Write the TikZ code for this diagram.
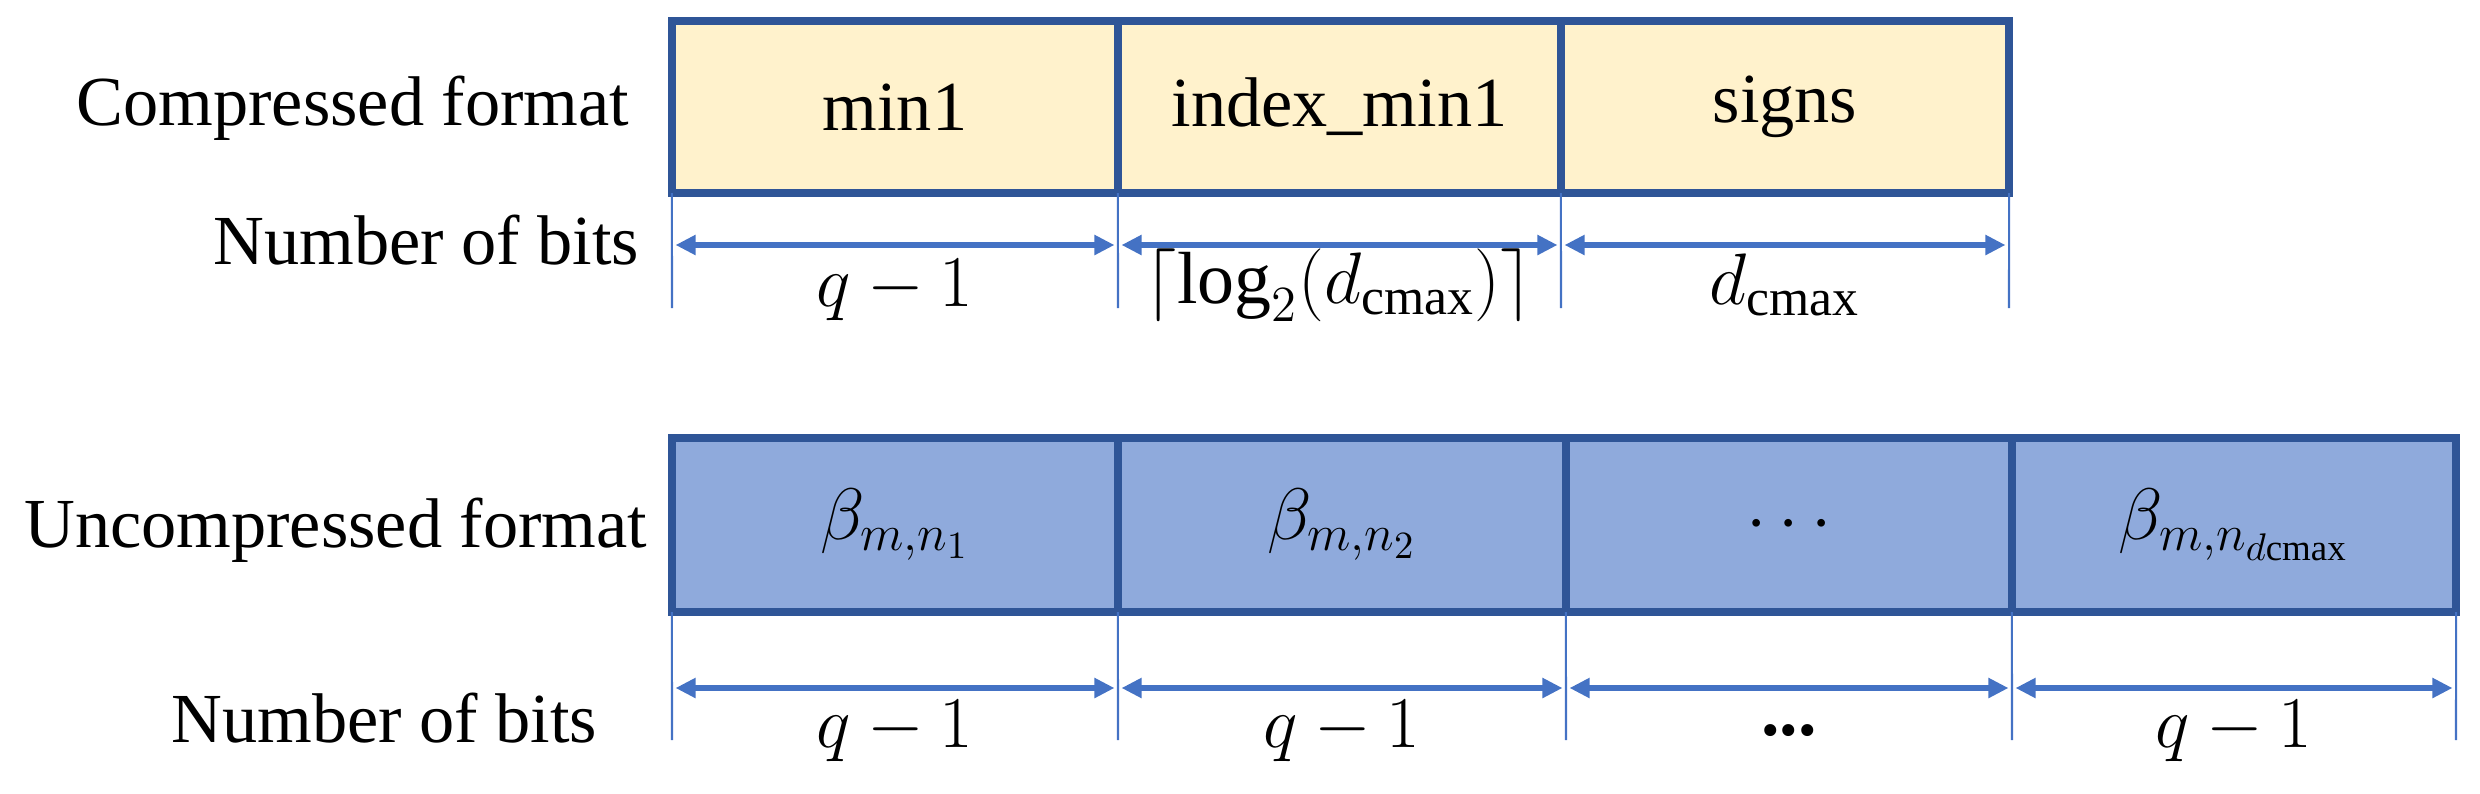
\documentclass[tikz,border=0pt]{standalone}
\usepackage{fontspec}
\setmainfont{Liberation Serif}
\usetikzlibrary{arrows.meta}
\definecolor{bordc}{HTML}{2F5597}
\definecolor{yfill}{HTML}{FFF2CC}
\definecolor{bfill}{HTML}{8FAADC}
\definecolor{arrc}{HTML}{4472C4}
\begin{document}
\begin{tikzpicture}[x=0.01cm,y=-0.01cm, font=\fontsize{20}{24}\selectfont,
 cell/.style={draw=bordc, line width=2.4pt, inner sep=0pt, outer sep=0pt, minimum height=1.72cm, align=center},
 ycell/.style={cell, fill=yfill},
 bcell/.style={cell, fill=bfill, minimum height=1.74cm},
 tick/.style={draw=arrc, line width=0.6pt},
 dim/.style={draw=arrc, line width=1.7pt, {Triangle[length=0.2cm,width=0.19cm]}-{Triangle[length=0.2cm,width=0.19cm]}, shorten <=1pt, shorten >=1pt},
 lbl/.style={inner sep=0pt, anchor=base east},
 val/.style={inner sep=0pt, font=\fontsize{21}{25}\selectfont}]
\useasboundingbox (0,0) rectangle (2480,793);

% left labels
\node[lbl] (l1) at (630,125) {Compressed format};
\node[lbl] (l2) at (640,264) {Number of bits};
\node[lbl] (l3) at (648,547) {Uncompressed format};
\node[lbl] (l4) at (598,742) {Number of bits};

% top ticks
\coordinate (t0) at (672,308);
\coordinate (t1) at (1118,308);
\coordinate (t2) at (1561,308);
\coordinate (t3) at (2009,308);
\coordinate (a0) at (672,245);
\coordinate (a1) at (1118,245);
\coordinate (a2) at (1561,245);
\coordinate (a3) at (2009,245);

% bottom ticks
\coordinate (s0) at (672,740);
\coordinate (s1) at (1118,740);
\coordinate (s2) at (1566,740);
\coordinate (s3) at (2012,740);
\coordinate (s4) at (2456,740);
\coordinate (b0) at (672,688);
\coordinate (b1) at (1118,688);
\coordinate (b2) at (1566,688);
\coordinate (b3) at (2012,688);
\coordinate (b4) at (2456,688);

% compressed cells
\node[ycell, minimum width=4.46cm] (c1) at (895,107) {min1};
\node[ycell, minimum width=4.43cm] (c2) at (1339.5,107) {index\_min1};
\node[ycell, minimum width=4.48cm] (c3) at (1785,107) {signs};

\draw[tick] (c1.south west) -- (t0);
\draw[tick] (c2.south west) -- (t1);
\draw[tick] (c3.south west) -- (t2);
\draw[tick] (c3.south east) -- (t3);
\draw[dim] (a0) -- (a1);
\draw[dim] (a1) -- (a2);
\draw[dim] (a2) -- (a3);

\node[val] (m1) at (895,290) {$q-1$};
\node[val] (m2) at (1339,285) {$\lceil\log_2(d_{\mathrm{cmax}})\rceil$};
\node[val] (m3) at (1785,285) {$d_{\mathrm{cmax}}$};

% uncompressed cells
\node[bcell, minimum width=4.46cm, font=\fontsize{21}{25}\selectfont] (u1) at (895,525) {$\beta_{m,n_1}$};
\node[bcell, minimum width=4.48cm, font=\fontsize{21}{25}\selectfont] (u2) at (1342,525) {$\beta_{m,n_2}$};
\node[bcell, minimum width=4.46cm] (u3) at (1789,525) {$\cdots$};
\node[bcell, minimum width=4.44cm, font=\fontsize{21}{25}\selectfont] (u4) at (2234,525) {$\beta_{m,n_{d\mathrm{cmax}}}$};

\draw[tick] (u1.south west) -- (s0);
\draw[tick] (u2.south west) -- (s1);
\draw[tick] (u3.south west) -- (s2);
\draw[tick] (u4.south west) -- (s3);
\draw[tick] (u4.south east) -- (s4);
\draw[dim] (b0) -- (b1);
\draw[dim] (b1) -- (b2);
\draw[dim] (b2) -- (b3);
\draw[dim] (b3) -- (b4);

\node[val] (n1) at (895,731) {$q-1$};
\node[val] (n2) at (1342,731) {$q-1$};
\node[val] (n3) at (1789,731) {\textbf{...}};
\node[val] (n4) at (2234,731) {$q-1$};
\end{tikzpicture}
\end{document}
